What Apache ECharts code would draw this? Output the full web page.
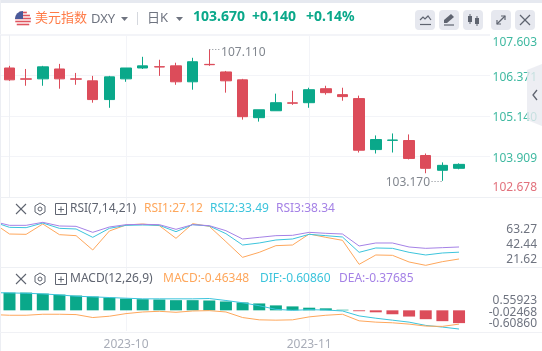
<!DOCTYPE html>
<html><head><meta charset="utf-8">
<style>html,body{margin:0;padding:0;background:#fff}#c{width:542px;height:351px}</style>
<script src="https://cdn.jsdelivr.net/npm/echarts@6/dist/echarts.min.js"></script>
</head><body><div id="c"></div>
<script>
// candle order: open, close, low, high
const opens  = [106.60,106.27,106.27,106.57,106.27,106.21,105.64,106.27,106.60,106.64,106.665,106.18,106.71,106.48,106.24,105.09,105.30,105.54,105.545,105.97,105.79,105.67,104.12,104.40,104.395,103.94,103.49,103.55];
const closes = [106.24,106.26,106.635,106.27,106.26,105.64,106.33,106.60,106.665,106.63,106.18,106.79,106.70,106.21,105.12,105.33,105.545,105.53,105.94,105.85,105.73,104.10,104.425,104.41,103.85,103.55,103.64,103.67];
const lows   = [106.21,106.06,106.06,105.97,106.09,105.545,105.39,106.18,106.57,106.36,106.09,105.94,106.665,105.85,105.03,104.97,105.30,105.48,105.39,105.79,105.605,104.03,104.00,104.03,103.82,103.40,103.17,103.52];
const highs  = [106.665,106.57,106.665,106.725,106.45,106.36,106.36,106.60,106.94,106.85,106.76,106.91,107.17,106.51,106.27,105.33,105.82,105.91,106.00,106.06,106.00,105.76,104.55,104.61,104.58,104.00,103.73,103.70];
// indicators start one session before the first visible candle
const rsi1 = [61.08,50.48,50.17,59.83,49.86,48.93,35.53,53.29,58.9,59.83,58.27,46.43,60.14,57.65,43.32,28.68,33.35,39.58,40.2,50.48,47.37,44.57,22.14,30.86,30.55,24.32,21.2,24.63,27.12];
const rsi2 = [62,56.71,56.4,60.76,55.78,55.16,47.37,55.78,58.58,58.9,58.58,52.67,59.21,57.96,50.8,40.2,42.07,44.88,45.81,50.17,48.93,47.68,33.35,37.4,37.09,33.35,30.86,32.73,33.49];
const rsi3 = [62.3,58.58,58.58,61.39,57.96,57.65,52.04,57.03,59.21,59.52,59.21,54.85,59.21,58.27,53.6,45.81,47.37,48.93,49.24,52.04,51.11,50.48,39.27,42.07,42.07,38.34,37.09,37.71,38.34];
const macdBars = [.6,.6,.567,.533,.5,.467,.433,.4,.378,.367,.344,.344,.333,.3,.267,.233,.167,.133,.089,.067,.02,-.03,-.067,-.133,-.211,-.3,-.367,-.433];
const dif = [.6,.589,.578,.556,.522,.478,.456,.433,.411,.389,.389,.389,.389,.4,.333,.256,.156,.033,0,.022,.011,-.022,-.189,-.267,-.333,-.4,-.511,-.567,-.633];
const dea = [-.144,-.167,-.167,-.133,-.133,-.144,-.244,-.2,-.111,-.056,-.033,-.067,-.022,-.011,-.056,-.244,-.322,-.333,-.322,-.222,-.167,-.133,-.356,-.4,-.422,-.467,-.533,-.544,-.467];
const xTicks = [7,18];
const xTickLabels = ['2023-10','2023-11'];
const priceTicks = [107.603,106.371,105.140,103.909,102.678];
const rsiTicks = [63.27,42.44,21.62];
const macdTicks = [0.55923,-0.02468,-0.60860];

const GREEN='#0aa88a',RED='#dc4c5a',GRID='#f3f4f8',ORANGE='#fea75c',CYAN='#3cc4dc',PURPLE='#a582e6',GRAY='#6f7480',FONT='"Noto Sans","Noto Sans CJK SC",sans-serif';
const XMIN=-0.57,XMAX=28.86;
const xAxisFor=(g,showLabel)=>({type:'value',gridIndex:g,min:XMIN,max:XMAX,
  axisLine:{show:false},axisTick:{show:false,customValues:xTicks},
  splitLine:{show:true,lineStyle:{color:GRID,width:1}},
  axisLabel:{show:showLabel,customValues:xTicks,margin:8,color:'#a9adb8',fontSize:12,fontFamily:FONT,
    formatter:v=>xTickLabels[xTicks.indexOf(v)]||''}});
const hiddenY=(g,min,max)=>({type:'value',gridIndex:g,position:'right',min,max,axisLine:{show:false},axisTick:{show:false},splitLine:{show:false},axisLabel:{show:false}});
// blank end ticks keep ECharts' min/max overlap rule away from the closely spaced labels
const labelY=(g,min,max,ticks,digits)=>({type:'value',gridIndex:g,position:'right',min,max,axisLine:{show:false},axisTick:{show:false},splitLine:{show:false},
   axisLabel:{customValues:[min,...ticks.slice().reverse(),max],align:'right',margin:47,color:GRAY,fontSize:12,fontFamily:FONT,showMinLabel:true,showMaxLabel:true,
     formatter:v=>ticks.includes(v)?v.toFixed(digits):''}});
const option={animation:false,backgroundColor:'#fff',
 grid:[{left:0,right:52,top:35,height:162},{left:0,right:52,top:197,height:70},{left:0,right:52,top:267,height:65}],
 xAxis:[xAxisFor(0,false),xAxisFor(1,false),xAxisFor(2,true)],
 yAxis:[
  {type:'value',gridIndex:0,position:'right',min:102.678,max:107.603,
   axisLine:{show:true,lineStyle:{color:'#eef0f4'}},axisTick:{show:false,customValues:priceTicks},
   splitLine:{show:true,lineStyle:{color:GRID}},
   axisLabel:{customValues:priceTicks,align:'right',margin:47,showMinLabel:true,showMaxLabel:true,
     formatter:v=>{const s=v.toFixed(3);return v===priceTicks[0]?`{t|${s}}`:v===priceTicks[4]?`{r|${s}}`:`{m|${s}}`;},
     rich:{t:{color:'#3fb9a1',fontSize:12,fontFamily:FONT,padding:[15,0,0,0]},m:{color:'#3fb9a1',fontSize:12,fontFamily:FONT,padding:[4,0,0,0]},r:{color:'#e2717c',fontSize:12,fontFamily:FONT,padding:[0,0,18,0]}}}},
  hiddenY(1,19.64,85.06),
  hiddenY(2,-0.70,1.467),
  labelY(1,11.9,109.08,rsiTicks,2),
  labelY(2,-1.0257,2.3632,macdTicks,5)
 ],
 series:[
  {type:'candlestick',xAxisIndex:0,yAxisIndex:0,barWidth:11,encode:{x:0,y:[1,2,3,4]},
   data:opens.map((o,i)=>[i,o,closes[i],lows[i],highs[i]]),
   itemStyle:{color:GREEN,color0:RED,borderColor:GREEN,borderColor0:RED,borderWidth:1},
   markLine:{silent:true,symbol:'none',label:{show:false},lineStyle:{color:'#82878f',type:[1,2],width:1},
     data:[[{coord:[12,107.17]},{coord:[12.65,107.17]}],[{coord:[25.35,103.17]},{coord:[26,103.17]}]]},
   markPoint:{silent:true,symbol:'circle',symbolSize:1,itemStyle:{color:'rgba(0,0,0,0)'},
     data:[{coord:[12.68,107.17],value:107.11},{coord:[25.35,103.17],value:103.17}].map((d,i)=>({...d,label:{show:true,color:'#82878f',fontSize:12,fontFamily:FONT,
        position:i?'left':'right',distance:i?1:0,offset:[0,i?2:3],formatter:p=>p.value.toFixed(3)}}))}},
  ...[[rsi1,ORANGE],[rsi2,CYAN],[rsi3,PURPLE]].map(([d,c])=>({type:'line',xAxisIndex:1,yAxisIndex:1,symbol:'none',lineStyle:{color:c,width:1},data:d.map((v,i)=>[i-1,v])})),
  {type:'bar',xAxisIndex:2,yAxisIndex:2,barWidth:12,data:macdBars.map((v,i)=>({value:[i,v],itemStyle:{color:v>=0?GREEN:RED}}))},
  {type:'line',xAxisIndex:2,yAxisIndex:2,symbol:'none',lineStyle:{color:CYAN,width:1},data:dif.map((v,i)=>[i-1,v])},
  {type:'line',xAxisIndex:2,yAxisIndex:2,symbol:'none',lineStyle:{color:ORANGE,width:1},data:dea.map((v,i)=>[i-1,v])}
 ],
 graphic:{elements:buildGraphics()}
};
function txt(x,y,s,fill,size,weight,align){return {type:'text',x,y,silent:true,z:50,style:{text:s,fill,fontSize:size||12,fontWeight:weight||'normal',fontFamily:FONT,align:align||'left',verticalAlign:'middle'}};}
function ln(x1,y1,x2,y2,c,w,z){return {type:'line',silent:true,z:z||40,shape:{x1,y1,x2,y2},style:{stroke:c,lineWidth:w||1}};}
function poly(pts,c,w){return {type:'polyline',silent:true,z:52,shape:{points:pts},style:{stroke:c,fill:null,lineWidth:w||1.5}};}
function tri(x,y,c){return {type:'polygon',silent:true,z:50,shape:{points:[[x,y],[x+7,y],[x+3.5,y+4]]},style:{fill:c}};}
function btn(x){return {type:'rect',silent:true,z:45,shape:{x,y:10,width:20,height:20,r:4},style:{fill:'#e6e8ef'}};}
function buildGraphics(){
 const g=[];
 // page frame + separators
 g.push({type:'rect',silent:true,z:39,shape:{x:0,y:0,width:542,height:3},style:{fill:'#e6e9f0'}});
 g.push({type:'rect',silent:true,z:39,shape:{x:0,y:0,width:1,height:351},style:{fill:'#eceef3'}});
 g.push(ln(0,34.5,490,34.5,'#f3f4f8'));
 g.push(ln(0,197.5,542,197.5,'#eef0f4'));g.push(ln(0,267.5,542,267.5,'#eef0f4'));g.push(ln(0,332.5,542,332.5,'#f0f1f5'));
 // flag
 g.push({type:'circle',silent:true,z:44,shape:{cx:23,cy:19,r:8},style:{fill:'#fff'}});
 [-7,-4,-1,2,5].forEach(d=>{const hw=Math.sqrt(64-d*d);g.push(ln(23-hw,19+d+.5,23+hw,19+d+.5,'#e0555f',1.6,45));});
 g.push({type:'sector',silent:true,z:46,shape:{cx:23,cy:19,r:8,r0:0,startAngle:Math.PI,endAngle:1.5*Math.PI},style:{fill:'#4a5a9a'}});
 g.push(txt(35,18,'美元指数','#ff7b47',13));
 g.push(txt(91,19,'DXY',GRAY,13));g.push(tri(121,17,GRAY));
 g.push(ln(137.5,12,137.5,25,'#d5d8de'));
 g.push(txt(147,18,'日K',GRAY,13));g.push(tri(176,17,GRAY));
 g.push(txt(193,17,'103.670',GREEN,14,'bold'));
 g.push(txt(252,17,'+0.140',GREEN,14,'bold'));
 g.push(txt(306,17,'+0.14%',GREEN,14,'bold'));
 [415,439,463,491,515].forEach(x=>g.push(btn(x)));
 const ic='#5f6470';
 g.push(poly([[420,20],[423,17],[425,19],[428,16],[431,20]],ic,1.2));g.push(ln(420,24.5,431,24.5,ic,1.2,52));
 g.push({type:'polygon',silent:true,z:52,shape:{points:[[444,23],[444,20],[451,14],[454,17],[447,23]]},style:{fill:ic}});g.push(ln(444,25,454,25,ic,1.2,52));
 g.push({type:'rect',silent:true,z:52,shape:{x:468,y:16,width:4,height:6},style:{fill:ic}});g.push(ln(470,14,470,24,ic,1,52));
 g.push({type:'rect',silent:true,z:52,shape:{x:475,y:18,width:4,height:6},style:{fill:ic}});g.push(ln(477,16,477,26,ic,1,52));
 g.push(poly([[497,24],[505,16]],ic,1.2));g.push(poly([[501,16],[505,16],[505,20]],ic,1.2));g.push(poly([[497,20],[497,24],[501,24]],ic,1.2));
 g.push(poly([[520,15],[530,25]],ic,1.2));g.push(poly([[530,15],[520,25]],ic,1.2));
 // side tab
 g.push({type:'polygon',silent:true,z:44,shape:{points:[[542,64],[527,70],[527,120],[542,126]]},style:{fill:'rgba(232,234,240,0.8)'}});
 g.push(poly([[537,90],[533,95],[537,100]],ic,1.3));
 // panel legends
 [[209,'RSI(7,14,21)',[['RSI1:27.12',ORANGE,144],['RSI2:33.49',CYAN,210],['RSI3:38.34',PURPLE,276]]],
  [279,'MACD(12,26,9)',[['MACD:-0.46348',ORANGE,163],['DIF:-0.60860',CYAN,260],['DEA:-0.37685',PURPLE,339]]]].forEach(([y,name,items])=>{
   g.push(poly([[16,y-5],[26,y+5]],ic,1.1));g.push(poly([[26,y-5],[16,y+5]],ic,1.1));
   g.push({type:'polygon',silent:true,z:52,shape:{points:[[40,y-6],[45,y-3],[45,y+3],[40,y+6],[35,y+3],[35,y-3]]},style:{stroke:ic,fill:null,lineWidth:1}});
   g.push({type:'circle',silent:true,z:52,shape:{cx:40,cy:y,r:2},style:{stroke:ic,fill:null,lineWidth:1}});
   g.push({type:'rect',silent:true,z:52,shape:{x:55.5,y:y-5.5,width:11,height:11},style:{stroke:ic,fill:null,lineWidth:1}});
   g.push(ln(58,y+.5,64,y+.5,ic,1,52));g.push(ln(61,y-2.5,61,y+3.5,ic,1,52));
   g.push(txt(70,y,name,'#5f6470',12));
   items.forEach(([s,c,x])=>g.push(txt(x,y,s,c,12)));
 });
 return g;
}
const chart=echarts.init(document.getElementById('c'),null,{renderer:'canvas'});
chart.setOption(option);
</script></body></html>
